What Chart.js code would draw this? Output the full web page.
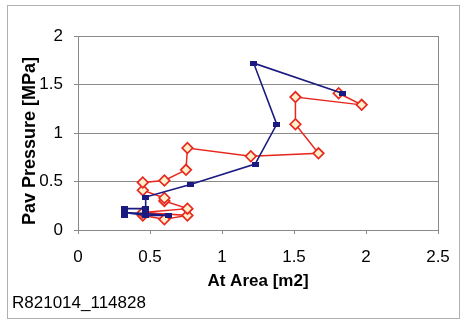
<!DOCTYPE html>
<html>
<head>
<meta charset="utf-8">
<script src="https://cdn.jsdelivr.net/npm/chart.js@4/dist/chart.umd.min.js"></script>
<style>
  html, body { margin: 0; padding: 0; background: #fff; }
  #wrap { position: absolute; left: 0; top: 0; width: 463px; height: 320px; }
</style>
</head>
<body>
<div id="wrap"><canvas id="c" width="463" height="320"></canvas></div>
<script>
// Run identifier shown under the chart
const runId = 'R821014_114828';
const xTitle = 'At Area [m2]';
const yTitle = 'Pav Pressure [MPa]';

// Axis ranges / tick spacing
const xTicks = [0, 0.5, 1, 1.5, 2, 2.5];
const yTicks = [0, 0.5, 1, 1.5, 2];

// Series 1 (navy squares): area [m2] and pressure [MPa]
const blueArea     = [0.32, 0.32, 0.47, 0.47, 0.32, 0.47, 0.63, 0.47, 0.47, 0.78, 1.23, 1.38, 1.22, 1.835];
const bluePressure = [0.15, 0.22, 0.22, 0.15, 0.18, 0.17, 0.15, 0.15, 0.34, 0.47, 0.68, 1.09, 1.72, 1.41];

// Series 2 (red diamonds): area [m2] and pressure [MPa]
const redArea     = [0.45, 0.60, 0.76, 0.45, 0.76, 0.60, 0.60, 0.45, 0.45, 0.60, 0.75, 0.76, 1.20, 1.67, 1.51, 1.51, 1.97, 1.81];
const redPressure = [0.15, 0.11, 0.15, 0.18, 0.22, 0.30, 0.33, 0.41, 0.49, 0.51, 0.62, 0.845, 0.76, 0.79, 1.09, 1.37, 1.29, 1.41];

const toPoints = (xs, ys) => xs.map((x, i) => ({ x: x, y: ys[i] }));

const FONT = "'Liberation Sans', Arial, sans-serif";
const GRID = '#8a8a8a';

// Small flat navy rectangle used as the series-1 marker
const blueMark = (() => {
  const c = document.createElement('canvas');
  c.width = 7; c.height = 5;
  const g = c.getContext('2d');
  g.fillStyle = '#1a1a80';
  g.fillRect(0, 0, 7, 5);
  return c;
})();

// Outer frame, plot frame and free-standing texts
const decor = {
  id: 'decor',
  beforeDraw(chart) {
    const ctx = chart.ctx;
    ctx.save();
    ctx.strokeStyle = '#b0b0b0';
    ctx.lineWidth = 1;
    ctx.strokeRect(7.5, 5.5, 452, 313);
    ctx.restore();
  },
  afterDraw(chart) {
    const ctx = chart.ctx;
    const a = chart.chartArea;
    ctx.save();
    ctx.strokeStyle = GRID;
    ctx.lineWidth = 1;
    ctx.strokeRect(Math.round(a.left) + 0.5, Math.round(a.top) + 0.5,
                   Math.round(a.right - a.left), Math.round(a.bottom - a.top));
    ctx.fillStyle = '#000';
    ctx.font = 'bold 17px ' + FONT;
    ctx.textAlign = 'center';
    ctx.textBaseline = 'middle';
    ctx.fillText(xTitle, (a.left + a.right) / 2, 281);
    ctx.save();
    ctx.translate(30, 141);
    ctx.rotate(-Math.PI / 2);
    ctx.font = 'bold 18px ' + FONT;
    ctx.fillText(yTitle, 0, 0);
    ctx.restore();
    ctx.font = '17px ' + FONT;
    ctx.textAlign = 'left';
    ctx.fillText(runId, 12, 303);
    ctx.restore();
  }
};

new Chart(document.getElementById('c'), {
  type: 'scatter',
  data: {
    datasets: [
      {
        data: toPoints(blueArea, bluePressure),
        showLine: true,
        borderColor: '#1a1a80',
        borderWidth: 1.6,
        pointStyle: blueMark,
        pointRadius: 3.5,
        pointBackgroundColor: '#1a1a80',
        pointBorderColor: '#1a1a80',
        tension: 0
      },
      {
        data: toPoints(redArea, redPressure),
        showLine: true,
        borderColor: '#e8281e',
        borderWidth: 1.5,
        pointStyle: 'rectRot',
        pointRadius: 5.3,
        pointBackgroundColor: '#fff0cc',
        pointBorderColor: '#e8281e',
        pointBorderWidth: 1.7,
        tension: 0
      }
    ]
  },
  options: {
    responsive: false,
    animation: false,
    devicePixelRatio: 1,
    layout: { padding: { left: 8, top: 36, right: 25, bottom: 0 } },
    plugins: { legend: { display: false }, tooltip: { enabled: false } },
    scales: {
      x: {
        type: 'linear',
        min: xTicks[0],
        max: xTicks[xTicks.length - 1],
        afterBuildTicks(s) { s.ticks = xTicks.map(v => ({ value: v })); },
        afterFit(s) { s.height = 90; },
        grid: { drawOnChartArea: false, drawTicks: true, tickLength: 4, color: GRID },
        border: { color: GRID },
        ticks: { color: '#000', font: { family: FONT, size: 17 }, padding: 13, maxRotation: 0,
                 callback: v => String(v) }
      },
      y: {
        type: 'linear',
        min: yTicks[0],
        max: yTicks[yTicks.length - 1],
        afterBuildTicks(s) { s.ticks = yTicks.map(v => ({ value: v })); },
        afterFit(s) { s.width = 70; },
        grid: { drawOnChartArea: true, drawTicks: true, tickLength: 4, color: GRID },
        border: { color: GRID },
        ticks: { color: '#000', font: { family: FONT, size: 17 }, padding: 11,
                 callback: v => String(v) }
      }
    }
  },
  plugins: [decor]
});
</script>
</body>
</html>
